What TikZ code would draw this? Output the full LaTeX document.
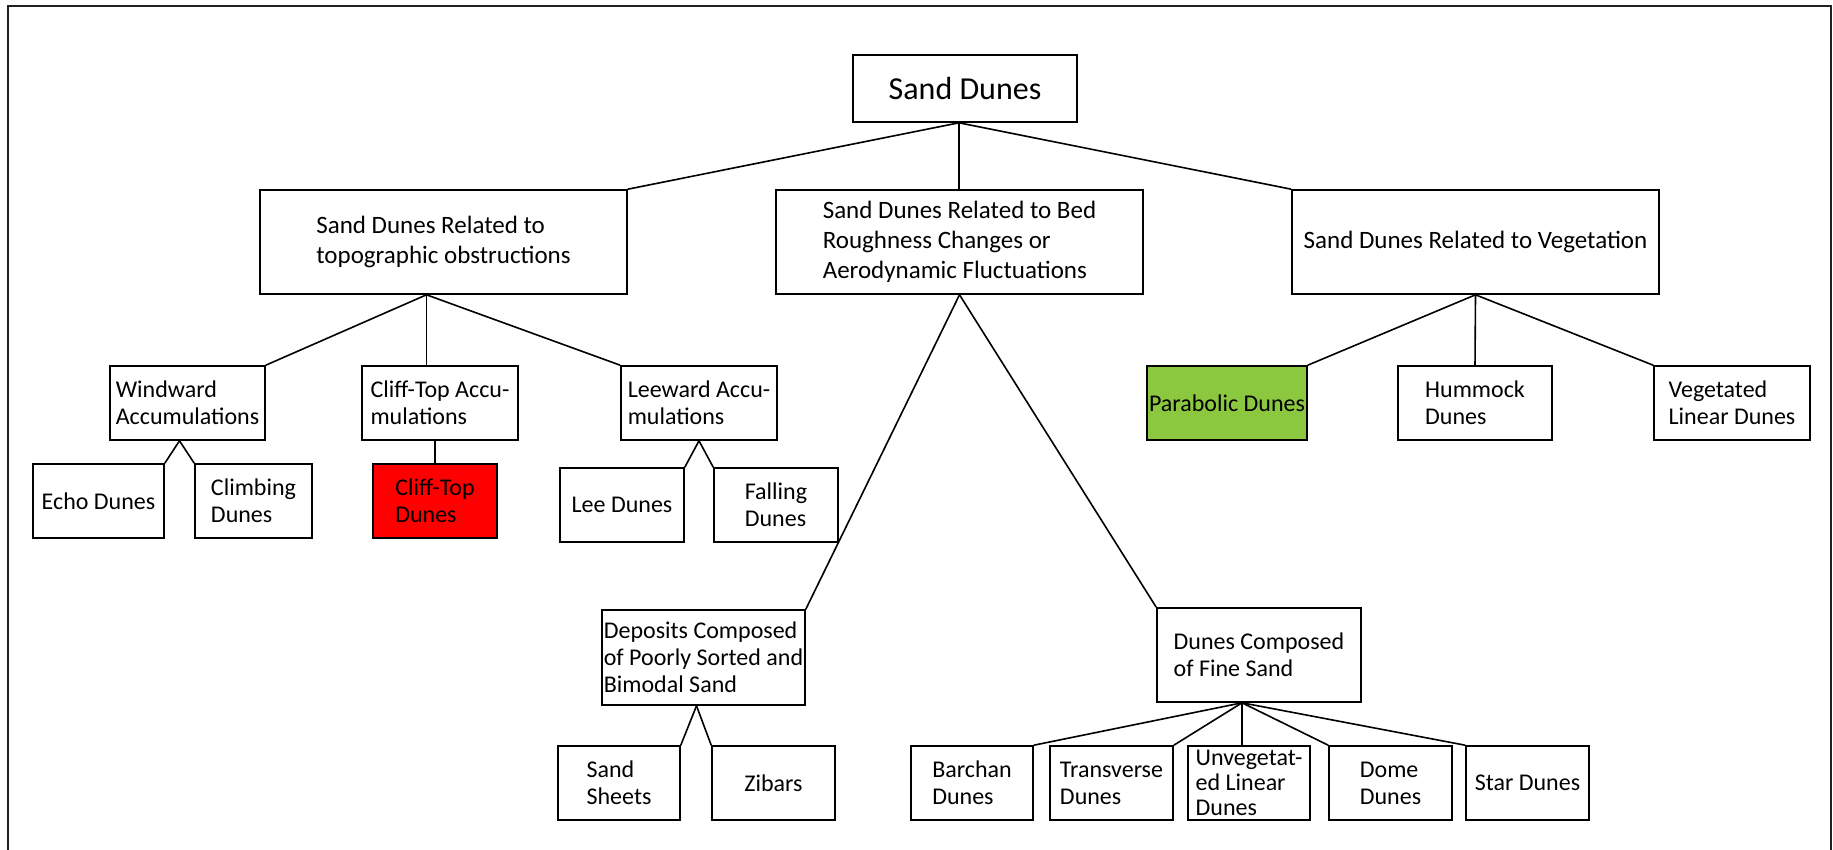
\documentclass[tikz,border=0pt]{standalone}
\usepackage{fontspec}
\setmainfont{Carlito}
\usetikzlibrary{positioning}
\definecolor{cliffred}{rgb}{1.0, 0.0, 0.0}
\definecolor{parabolicgreen}{rgb}{0.55, 0.78, 0.25}
\definecolor{framegray}{rgb}{0.13, 0.13, 0.13}

\begin{document}
\begin{tikzpicture}[x=1pt,y=-1pt,
        box/.style={draw, line width=1.6pt, minimum height=74pt, inner sep=2pt, align=left, font=\fontsize{24}{27}\selectfont},
        bigbox/.style={box, minimum height=104pt, minimum width=367pt, font=\fontsize{25}{30}\selectfont},
        link/.style={line width=1.6pt},
    ]
        \useasboundingbox (0,0) rectangle (1833,850);
        \draw[line width=2pt, framegray] (8,850) -- (8,6) -- (1831,6) -- (1831,850);

        \node[box, minimum width=224pt, minimum height=67pt, font=\fontsize{32}{36}\selectfont] (dunes) at (965,88.5) {Sand Dunes};

        \node[bigbox] (topo) at (443.5,242) {Sand Dunes Related to\\topographic obstructions};
        \node[bigbox] (bed) at (959.5,242) {Sand Dunes Related to Bed\\Roughness Changes or\\Aerodynamic Fluctuations};
        \node[bigbox] (veg) at (1475.5,242) {Sand Dunes Related to Vegetation};

        \node[box, minimum width=155pt] (windward) at (187.5,403) {Windward\\Accumulations};
        \node[box, minimum width=156pt] (cliffacc) at (440,403) {Cliff-Top Accu-\\mulations};
        \node[box, minimum width=156pt] (leeward) at (699,403) {Leeward Accu-\\mulations};

        \node[box, minimum width=131pt] (echo) at (98.5,501) {Echo Dunes};
        \node[box, minimum width=117pt] (climbing) at (253.5,501) {Climbing\\Dunes};
        \node[box, minimum width=124pt, fill=cliffred] (cliffdunes) at (435,501) {Cliff-Top\\Dunes};
        \node[box, minimum width=124pt] (lee) at (622,505) {Lee Dunes};
        \node[box, minimum width=124pt] (falling) at (776,505) {Falling\\Dunes};

        \node[box, minimum width=156pt, fill=parabolicgreen] (parabolic) at (1227,403) {Parabolic Dunes};
        \node[box, minimum width=154pt] (hummock) at (1475,403) {Hummock\\Dunes};
        \node[box, minimum width=156pt] (vegetated) at (1732,403) {Vegetated\\Linear Dunes};

        \node[box, minimum width=203pt, minimum height=95pt, inner sep=1pt] (deposits) at (703.5,657.5) {Deposits Composed\\of Poorly Sorted and\\Bimodal Sand};
        \node[box, minimum width=204pt, minimum height=94pt] (finesand) at (1259,655) {Dunes Composed\\of Fine Sand};

        \node[box, minimum width=122pt] (sheets) at (619,783) {Sand\\Sheets};
        \node[box, minimum width=123pt] (zibars) at (773.5,783) {Zibars};
        \node[box, minimum width=122pt] (barchan) at (972,783) {Barchan\\Dunes};
        \node[box, minimum width=123pt] (transverse) at (1111.5,783) {Transverse\\Dunes};
        \node[box, minimum width=122pt, font=\fontsize{24}{25}\selectfont] (unveg) at (1249,783) {Unvegetat-\\ed Linear\\Dunes};
        \node[box, minimum width=123pt] (dome) at (1390.5,783) {Dome\\Dunes};
        \node[box, minimum width=123pt] (star) at (1527.5,783) {Star Dunes};

        \coordinate (dunesfoot) at ([xshift=-6pt]dunes.south);
        \coordinate (topofoot) at ([xshift=-17pt]topo.south);
        \coordinate (windfoot) at ([xshift=-8pt]windward.south);
        \coordinate (depfoot) at ([xshift=-7pt]deposits.south);
        \coordinate (finefoot) at ([xshift=-17pt]finesand.south);

        \draw[link] (dunesfoot) -- (topo.north east);
        \draw[link] (dunesfoot) -- (dunesfoot |- bed.north);
        \draw[link] (dunesfoot) -- (veg.north west);

        \draw[link] (topofoot) -- (windward.north east);
        \draw[link] (topofoot) -- (topofoot |- cliffacc.north);
        \draw[link] (topofoot) -- (leeward.north west);

        \draw[link] (windfoot) -- (echo.north east);
        \draw[link] (windfoot) -- (climbing.north west);
        \draw[link] (cliffdunes.north |- cliffacc.south) -- (cliffdunes.north);
        \draw[link] (leeward.south) -- (lee.north east);
        \draw[link] (leeward.south) -- (falling.north west);

        \draw[link] (veg.south) -- (parabolic.north east);
        \draw[link] (veg.south) -- (hummock.north);
        \draw[link] (veg.south) -- (vegetated.north west);

        \draw[link] (bed.south) -- (deposits.north east);
        \draw[link] (bed.south) -- (finesand.north west);

        \draw[link] (depfoot) -- (sheets.north east);
        \draw[link] (depfoot) -- (zibars.north west);

        \draw[link] (finefoot) -- (barchan.north east);
        \draw[link] (finefoot) -- (transverse.north east);
        \draw[link] (finefoot) -- (finefoot |- unveg.north);
        \draw[link] (finefoot) -- (dome.north west);
        \draw[link] (finefoot) -- (star.north west);
\end{tikzpicture}
\end{document}
